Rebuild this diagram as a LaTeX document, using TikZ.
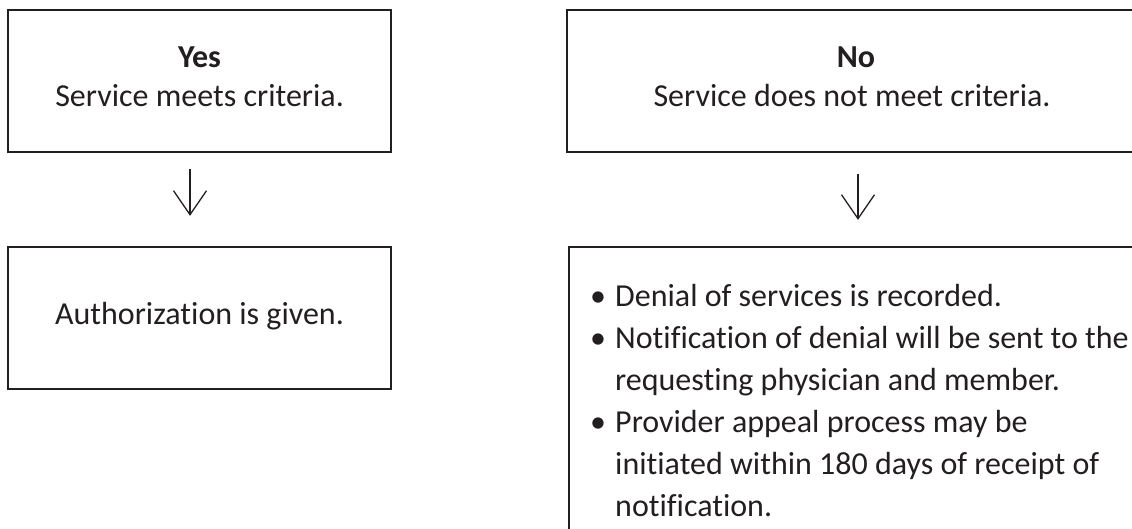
\documentclass[tikz,border=0pt]{standalone}
\usepackage{fontspec}
\setmainfont{Carlito}[Ligatures=NoCommon]
\usetikzlibrary{arrows.meta}
\definecolor{ink}{HTML}{231F20}
\begin{document}
\begin{tikzpicture}[x=1pt,y=-1pt,
  box/.style={draw=ink, line width=2.3pt, minimum width=383pt, minimum height=142pt, inner sep=0pt},
  txt/.style={text=ink, font=\fontsize{32}{42}\selectfont, anchor=base, inner sep=0pt},
  lft/.style={txt, anchor=base west},
  head/.style={txt, font=\fontsize{32}{42}\selectfont\bfseries},
  flow/.style={draw=ink, line width=1.3pt, -{Straight Barb[length=24pt,width=33pt,line width=1.3pt]}}]
\useasboundingbox (0,0) rectangle (1132,529);
\clip (0,0) rectangle (1132,529);
% boxes
\node[box] (yes) at (199.5,81) {};
\node[box] (auth) at (199.5,318) {};
\node[box, minimum width=582pt] (no) at (858,81) {};
\node[box, minimum width=578pt, minimum height=300pt] (deny) at (858,397) {};
% texts
\node[head] (yest) at (199.5,68) {Yes};
\node[txt] (yess) at (199.5,107) {Service meets criteria.};
\node[head] (notxt) at (856,68) {No};
\node[txt] (nos) at (852,107) {Service does not meet criteria.};
\node[txt] (autht) at (199.5,324) {Authorization is given.};
\node[txt] (d1) at (598,306) {•};
\node[txt] (d2) at (598,348) {•};
\node[txt] (d3) at (598,432) {•};
\node[lft] (l1) at (615,306) {Denial of services is recorded.};
\node[lft] (l2) at (615,348) {Notification of denial will be sent to the};
\node[lft] (l3) at (615,390) {requesting physician and member.};
\node[lft] (l4) at (615,432) {Provider appeal process may be};
\node[lft] (l5) at (615,474) {initiated within 180 days of receipt of};
\node[lft] (l6) at (615,516) {notification.};
% connectors
\draw[flow, shorten <=16pt, shorten >=30pt] ([xshift=-9.5pt]yes.south) -- ([xshift=-9.5pt]auth.north);
\draw[flow, shorten <=21pt, shorten >=26pt] (no.south) -- (deny.north);
\end{tikzpicture}
\end{document}
